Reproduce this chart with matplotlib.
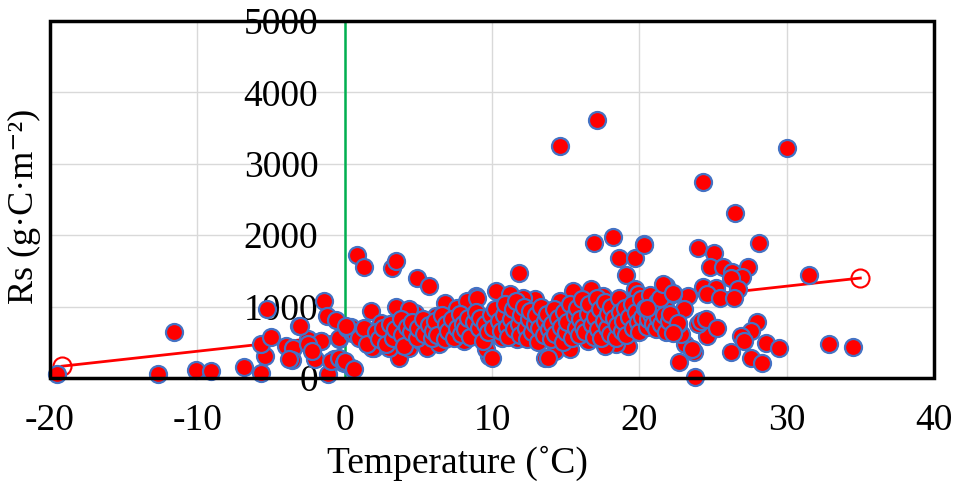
import matplotlib
matplotlib.use("Agg")
import matplotlib.pyplot as plt
from matplotlib.patches import Rectangle

plt.rcParams['font.family'] = ['Liberation Serif', 'DejaVu Serif']
plt.rcParams['axes.unicode_minus'] = False

# sparse points below 0 degC and around the y axis
temp_cold = [-19.5, -12.7, -11.6, -10.1, -9.1, -6.8, -5.7, -5.4, -5.7, -5.0, -5.25, -4.0, -3.5, -3.6,
             -3.1, -2.5, -2.25, -2.0, -1.6, -1.4, -1.2, -1.1, -0.75, -0.6, -0.4, -0.2, -0.9, -0.4,
             -0.07, -1.6, -2.5, -2.2, -3.8, -3.0, -0.4]
rs_cold = [50, 56, 640, 108, 98, 155, 75, 310, 480, 577, 970, 450, 427, 253,
           732, 549, 408, 267, 521, 1084, 873, 56, 267, 816, 549, 225, 240, 282,
           211, 521, 479, 380, 267, 732, 563]

# band between 0 and 22 degC (edges)
temp_edge = [0.5, 0.4, 0.5, 0.15, 0.7, 0.85, 1.3, 3.2, 3.5, 4.9, 5.7, 1.8, 3.5, 4.8, 3.7, 3.0, 2.0,
             1.6, 0.0, 9.8, 9.6, 10.3, 8.9, 0.6, 0.1, 1.85, 2.9, 2.5, 4.4, 6.8, 7.6, 8.3, 9.0,
             4.4, 5.2, 5.6, 6.4, 6.55, 7.2, 8.1, 8.7, 9.35, 6.2, 10.0, 10.4,
             11.8, 16.9, 18.2, 20.3, 18.6, 19.7, 19.1, 19.2, 10.0, 13.6, 14.3, 15.3, 11.7, 10.5,
             18.4, 17.7, 16.5, 13.0, 12.9, 16.7, 15.5, 19.7, 13.8, 10.7, 11.2, 12.1, 14.6,
             17.5, 19.9, 21.0, 18.2, 19.4, 20.4, 21.9, 22.0, 14.6, 17.1]
rs_edge = [633, 718, 141, 704, 633, 1718, 1549, 1535, 1633, 1394, 1295, 943, 1000, 915, 282, 422, 422,
           563, 240, 310, 408, 1225, 1154, 127, 732, 422, 619, 774, 422, 1056, 985, 1084, 1126,
           971, 521, 422, 479, 704, 619, 521, 662, 591, 873, 774, 619,
           1464, 1887, 1971, 1873, 1675, 1675, 1436, 450, 282, 282, 380, 408, 549, 591,
           479, 450, 521, 563, 1112, 1253, 1225, 1253, 282, 563, 1183, 1126, 1084,
           1154, 1183, 1042, 760, 732, 760, 943, 662, 3252, 3618]

# band interior
temp_mid = [1.0, 1.3, 1.5, 2.1, 2.3, 2.6, 2.8, 3.1, 3.3, 3.4, 3.8, 3.9, 4.0, 4.2, 4.5, 4.6, 4.9, 5.0,
            5.3, 5.4, 5.7, 5.9, 6.0, 6.1, 6.3, 6.6, 6.8, 6.9, 7.0, 7.3, 7.4, 7.6, 7.8, 7.9, 8.0,
            8.2, 8.4, 8.5, 8.8, 8.9, 9.1, 9.2, 9.4, 9.5, 9.7, 9.9, 10.1, 10.2, 10.5, 10.6, 10.8,
            10.9, 11.0, 11.1, 11.3, 11.4, 11.5, 11.6, 11.8, 11.9, 12.0, 12.2, 12.3, 12.4, 12.5,
            12.6, 12.7, 12.9, 13.0, 13.1, 13.2, 13.3, 13.5, 13.6, 13.7, 13.9, 14.0, 14.1, 14.2,
            14.3, 14.5, 14.7, 14.8, 14.9, 15.0, 15.1, 15.3, 15.4, 15.6, 15.7, 15.8, 15.9, 16.0,
            16.1, 16.2, 16.3, 16.5, 16.6, 16.8, 16.9, 17.0, 17.1, 17.2, 17.3, 17.4, 17.6, 17.7,
            17.8, 17.9, 18.0, 18.1, 18.3, 18.4, 18.5, 18.6, 18.7, 18.8, 18.9, 19.0, 19.1, 19.3,
            19.5, 19.6, 19.8, 19.9, 20.0, 20.1, 20.2, 20.4, 20.5, 20.6, 20.7, 20.8, 20.9, 21.0,
            21.1, 21.2, 21.3, 21.5, 21.6, 21.7, 21.8, 21.9, 22.0]
rs_mid = [560, 700, 480, 650, 540, 700, 480, 760, 560, 680, 820, 600, 450, 720, 640, 780, 560, 700,
          820, 620, 740, 560, 660, 800, 600, 880, 540, 760, 660, 820, 560, 700, 900, 620, 760,
          680, 840, 580, 780, 920, 700, 840, 520, 760, 640, 880, 700, 960, 800, 660, 880,
          1040, 720, 580, 820, 960, 680, 1080, 760, 600, 880, 1000, 700, 540, 820,
          940, 640, 760, 880, 500, 700, 1000, 600, 800, 900, 680, 540, 760, 960,
          620, 840, 720, 500, 920, 640, 780, 1040, 560, 880, 700, 980, 600, 820,
          1100, 720, 640, 900, 1040, 760, 580, 860, 1120, 680, 960, 560, 800, 1060,
          700, 900, 620, 1000, 840, 560, 740, 1120, 920, 660, 800, 980, 600, 860,
          1040, 700, 920, 780, 640, 1100, 860, 980, 720, 820, 1160, 900, 760, 960,
          680, 1060, 840, 760, 1000, 880, 640, 1120, 800]

# warm side, above 20 degC
temp_warm = [24.3, 26.5, 24.0, 25.1, 28.1, 20.3, 24.8, 25.7, 26.3, 27.4, 27.0, 26.2, 24.3, 25.2, 26.7,
             24.6, 25.5, 26.4, 31.5, 23.3, 22.3, 21.8, 23.0, 24.4, 25.2, 24.6, 24.0, 28.0, 27.6,
             26.9, 27.1, 28.6, 29.5, 26.2, 27.6, 28.3, 32.9, 34.5, 23.8, 22.7, 23.7, 23.1, 22.8,
             22.6, 22.1, 21.4, 20.5, 21.6, 22.3, 22.6, 22.3, 23.6, 24.2, 24.5, 25.3, 30.0]
rs_warm = [2746, 2309, 1816, 1746, 1887, 1859, 1549, 1549, 1478, 1549, 1408, 1394, 1281, 1267, 1253,
           1183, 1126, 1126, 1436, 1154, 1183, 1295, 971, 816, 704, 591, 760, 788, 662,
           591, 521, 493, 422, 366, 282, 211, 479, 436, 15, 225, 366, 479, 619,
           760, 901, 1126, 985, 1323, 1197, 774, 633, 408, 802, 830, 704, 3224]

trend_x = [-19.2, 35.0]
trend_y = [165, 1400]

temps = temp_cold + temp_edge + temp_mid + temp_warm
rs = rs_cold + rs_edge + rs_mid + rs_warm

fig = plt.figure(figsize=(9.55, 4.87), dpi=100)
ax = fig.add_axes([50 / 955, 1 - 378 / 487, 884 / 955, 357 / 487])

ax.grid(True, color='#d9d9d9', lw=1)
ax.set_axisbelow(True)

ax.plot(trend_x, trend_y, color='#ff0000', lw=2, marker='o', ms=13, mfc='none',
        mec='#ff0000', mew=1.5, zorder=2)
ax.scatter(temps, rs, s=150, c='#ff0000', edgecolors='#4472c4', linewidths=1.6, zorder=3,
           clip_on=False)

ax.set_xlim(-20, 40)
ax.set_ylim(0, 5000)
ax.set_xticks([-20, -10, 0, 10, 20, 30, 40])
ax.set_yticks([0, 1000, 2000, 3000, 4000, 5000])

ax.spines['left'].set_position(('data', 0))
ax.spines['left'].set_color('#00b050')
ax.spines['left'].set_linewidth(1.8)
for s in ['top', 'right', 'bottom']:
    ax.spines[s].set_visible(False)
ax.add_patch(Rectangle((0, 0), 1, 1, transform=ax.transAxes, fill=False, ec='black',
                       lw=2.5, clip_on=False, zorder=5))

ax.tick_params(axis='both', length=0, labelsize=27)
ax.tick_params(axis='y', pad=19)
ax.tick_params(axis='x', pad=18)

ax.set_xlabel('Temperature (\u02daC)', fontsize=27)
ax.xaxis.set_label_coords(0.461, -0.19)
ax.set_ylabel('Rs (g\u00b7C\u00b7m\u207b\u00b2)', fontsize=26)
ax.yaxis.set_label_coords(-0.01, 0.48, transform=ax.transAxes)

fig.savefig('out.png', dpi=100)
